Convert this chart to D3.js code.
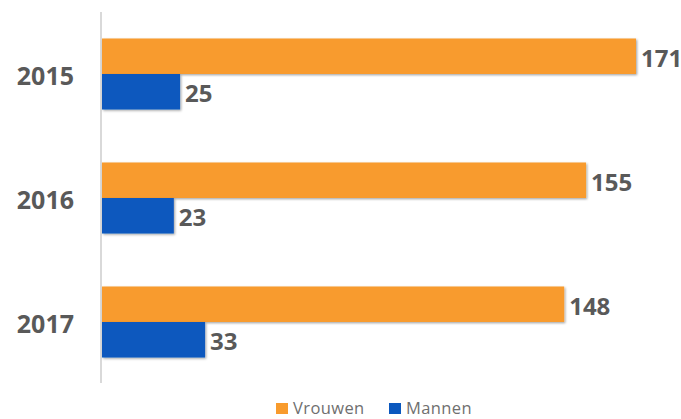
<!DOCTYPE html>
<html>
<head>
<meta charset="utf-8">
<script src="https://cdn.jsdelivr.net/npm/d3@7"></script>
<style>
  html, body { margin: 0; padding: 0; background: #fff; }
  svg { display: block; }
</style>
</head>
<body>
<svg id="chart" width="681" height="419"></svg>
<script>
// Aantallen per jaar, uitgesplitst naar geslacht
const years = ["2015", "2016", "2017"];
const seriesNames = ["Vrouwen", "Mannen"];
const vrouwen = [171, 155, 148];
const mannen = [25, 23, 33];
const seriesColors = ["#F89B2D", "#0B58BE"];

const rows = years.map((y, i) => ({ year: y, values: [vrouwen[i], mannen[i]] }));

const svg = d3.select("#chart");
const x0 = 102, yTop = 12, yBottom = 384;

const x = d3.scaleLinear().domain([0, 171]).range([x0, 636]);
const y = d3.scaleBand().domain(years).range([yTop, yBottom])
  .paddingInner(0.4274).paddingOuter(0.2137);
const ySub = d3.scaleBand().domain(seriesNames).range([0, y.bandwidth()]);

// zachte schaduw onder de balken
const defs = svg.append("defs");
const f = defs.append("filter").attr("id", "shadow")
  .attr("x", "-5%").attr("y", "-20%").attr("width", "115%").attr("height", "150%");
f.append("feDropShadow").attr("dx", 1.2).attr("dy", 1.2)
  .attr("stdDeviation", 0.8).attr("flood-color", "#000").attr("flood-opacity", 0.35);

// verticale as
svg.append("line")
  .attr("x1", x0 - 1).attr("x2", x0 - 1)
  .attr("y1", yTop).attr("y2", yBottom - 1)
  .attr("stroke", "#d9d9d9").attr("stroke-width", 2);

const groups = svg.selectAll("g.year").data(rows).join("g")
  .attr("class", "year")
  .attr("transform", d => `translate(0,${y(d.year)})`);

groups.selectAll("rect").data(d => d.values.map((v, i) => ({ v, s: seriesNames[i], c: seriesColors[i] })))
  .join("rect")
  .attr("x", x(0))
  .attr("y", d => ySub(d.s))
  .attr("width", d => x(d.v) - x(0))
  .attr("height", ySub.bandwidth())
  .attr("fill", d => d.c)
  .attr("filter", "url(#shadow)");

groups.selectAll("text.val").data(d => d.values.map((v, i) => ({ v, s: seriesNames[i] })))
  .join("text")
  .attr("class", "val")
  .attr("x", d => x(d.v) + 5)
  .attr("y", d => ySub(d.s) + ySub.bandwidth() / 2 + 1)
  .attr("dominant-baseline", "central")
  .attr("font-family", "'Open Sans', sans-serif")
  .attr("font-weight", 700)
  .attr("font-size", 24)
  .attr("fill", "#595959")
  .text(d => d.v);

// jaartallen links van de as
svg.selectAll("text.year").data(years).join("text")
  .attr("class", "year")
  .attr("x", 74)
  .attr("y", d => y(d) + y.bandwidth() / 2 + 0.5)
  .attr("text-anchor", "end")
  .attr("dominant-baseline", "central")
  .attr("font-family", "'Open Sans', sans-serif")
  .attr("font-weight", 700)
  .attr("font-size", 25)
  .attr("fill", "#595959")
  .text(d => d);

// legenda
const legendX = [276, 389];
const legend = svg.selectAll("g.legend").data(seriesNames).join("g")
  .attr("class", "legend")
  .attr("transform", (d, i) => `translate(${legendX[i]},403)`);
legend.append("rect")
  .attr("width", 12).attr("height", 11)
  .attr("fill", (d, i) => seriesColors[i]);
legend.append("text")
  .attr("x", 17).attr("y", 11)
  .attr("font-family", "'Open Sans', sans-serif")
  .attr("font-size", 16.5)
  .attr("letter-spacing", 0.4)
  .attr("fill", "#6f6f6f")
  .text(d => d);
</script>
</body>
</html>
